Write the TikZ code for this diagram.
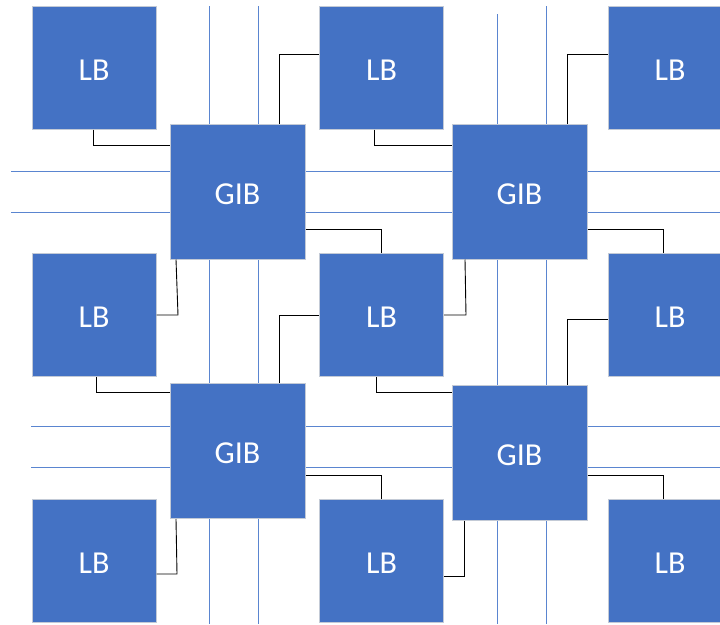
\documentclass[tikz,border=0pt]{standalone}
\usepackage{fontspec}
\setmainfont{Carlito}
\definecolor{boxblue}{HTML}{4472C4}
\definecolor{wire}{HTML}{5A85D0}
\definecolor{edgegray}{HTML}{C3CAD6}
\begin{document}
\begin{tikzpicture}[x=1pt,y=-1pt,
  blk/.style={draw=edgegray,line width=1pt,fill=boxblue,text=white,font=\fontsize{32}{38}\selectfont,inner sep=0pt,text height=25pt,text depth=0pt},
  lb/.style={blk,minimum width=124pt,minimum height=123pt},
  gib/.style={blk,minimum width=135pt,minimum height=135pt},
  track/.style={wire,line width=1pt},
  conn/.style={black,line width=0.9pt}]
\useasboundingbox (0,0) rectangle (720,624);
\clip (0,0) rectangle (720,624);
% routing tracks
\draw[track] (209,6) -- (209,624);
\draw[track] (258,6) -- (258,624);
\draw[track] (497,14) -- (497,624);
\draw[track] (546,6) -- (546,624);
\draw[track] (11,171) -- (720,171);
\draw[track] (11,212) -- (720,212);
\draw[track] (31,426) -- (720,426);
\draw[track] (31,467) -- (720,467);
% logic blocks
\node[lb] (lb11) at (94,67.5) {LB};
\node[lb] (lb12) at (381.5,67.5) {LB};
\node[lb] (lb13) at (670,67.5) {LB};
\node[lb] (lb21) at (94,315) {LB};
\node[lb] (lb22) at (381.5,315) {LB};
\node[lb] (lb23) at (670,315) {LB};
\node[lb] (lb31) at (94,561) {LB};
\node[lb] (lb32) at (381.5,561) {LB};
\node[lb] (lb33) at (670,561) {LB};
% GIBs
\node[gib] (g11) at (237.5,191.5) {GIB};
\node[gib] (g12) at (519.5,191.5) {GIB};
\node[gib] (g21) at (237.5,451) {GIB};
\node[gib] (g22) at (519.5,452.5) {GIB};
% connectors of g11
\draw[conn] (lb11.south -| 93,0) |- (g11.west |- 0,145);
\draw[conn] (g11.north -| 279,0) |- (lb12.west |- 0,54);
\draw[conn] (g11.east |- 0,229) -| (lb22.north);
\draw[conn] (g11.south -| 176,0) -- (178,315) -- (lb21.east);
% connectors of g21
\draw[conn] (lb21.south -| 96,0) |- (g21.west |- 0,392);
\draw[conn] (g21.north -| 279,0) |- (lb22.west);
\draw[conn] (g21.east |- 0,475) -| (lb32.north);
\draw[conn] (g21.south -| 176,0) -- (177,574) -- (lb31.east |- 0,574);
% connectors of g12
\draw[conn] (lb12.south -| 374,0) |- (g12.west |- 0,145);
\draw[conn] (g12.north -| 567,0) |- (lb13.west |- 0,54);
\draw[conn] (g12.east |- 0,229) -| (lb23.north -| 663,0);
\draw[conn] (g12.south -| 465,0) -- (466,315) -- (lb22.east);
% connectors of g22
\draw[conn] (lb22.south -| 376,0) |- (g22.west |- 0,392);
\draw[conn] (g22.north -| 567,0) |- (lb23.west |- 0,319);
\draw[conn] (g22.east |- 0,475) -| (lb33.north -| 663,0);
\draw[conn] (g22.south -| 464,0) -- (464,576) -- (lb32.east |- 0,576);
\end{tikzpicture}
\end{document}
